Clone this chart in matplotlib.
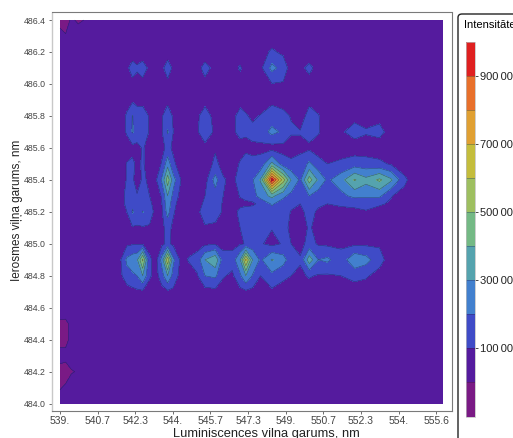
import matplotlib
matplotlib.use('Agg')
import matplotlib.pyplot as plt
import numpy as np
from matplotlib.patches import FancyBboxPatch

plt.rcParams['font.family'] = ['Liberation Sans', 'DejaVu Sans']

W, H = 513, 438

# wavelengths, nm
x_nodes = [539.0, 539.25, 539.5, 539.8, 541.3,
           541.6, 541.95, 542.2, 542.4, 542.65, 542.95, 543.25, 543.5, 543.75, 544.0,
           544.35, 544.7, 545.05, 545.4, 545.85, 546.2, 546.6, 546.95, 547.2, 547.5, 547.85,
           548.35, 548.85, 549.2, 549.6, 550.0, 550.4, 550.8, 551.4, 552.0, 552.5, 553.1, 553.6, 554.2, 554.6, 555.9]
y_nodes = [484.0, 484.1, 484.2, 484.3, 484.4, 484.5, 484.6, 484.7, 484.8, 484.9, 485.0, 485.1, 485.2,
           485.25, 485.3, 485.4, 485.5, 485.6, 485.7, 485.8, 485.9, 486.0, 486.1, 486.2, 486.3, 486.4]

# intensity, in units of 10000, one list per excitation wavelength
r4840 = [3, 4, 5, 5, 5,  5, 5, 5, 5, 5, 5, 5, 5, 5, 5,  5, 5, 5, 5, 5, 5, 5, 5, 5, 5, 5,  5, 5, 5, 5, 5, 5, 5, 5, 5, 5, 5, 5, 5, 5, 5]
r4841 = [-0.5, 1, 3, 5, 5,  5, 5, 5, 5, 5, 5, 5, 5, 5, 5,  5, 5, 5, 5, 5, 5, 5, 5, 5, 5, 5,  5, 5, 5, 5, 5, 5, 5, 5, 5, 5, 5, 5, 5, 5, 5]
r4842 = [-1, -3, -0.5, 0.5, 5,  5, 5, 5, 5, 5, 5, 5, 5, 5, 5,  5, 5, 5, 5, 5, 5, 5, 5, 5, 5, 5,  5, 5, 5, 5, 5, 5, 5, 5, 5, 5, 5, 5, 5, 5, 5]
r4843 = [1, 2, 3, 5, 5,  5, 5, 5, 5, 5, 5, 5, 5, 5, 5,  5, 5, 5, 5, 5, 5, 5, 5, 5, 5, 5,  5, 5, 5, 5, 5, 5, 5, 5, 5, 5, 5, 5, 5, 5, 5]
r4844 = [-1, -2, 2, 5, 5,  5, 5, 5, 5, 5, 5, 5, 5, 5, 5,  5, 5, 5, 5, 5, 5, 5, 5, 5, 5, 5,  5, 5, 5, 5, 5, 5, 5, 5, 5, 5, 5, 5, 5, 5, 5]
r4845 = [-1, -2, 2, 5, 5,  5, 5, 5, 5, 5, 5, 5, 5, 5, 5,  5, 5, 5, 5, 5, 5, 5, 5, 5, 5, 5,  5, 5, 5, 5, 5, 5, 5, 5, 5, 5, 5, 5, 5, 5, 5]
r4846 = [3, 5, 5, 5, 5,  5, 5, 5, 5, 5, 5, 5, 5, 5, 5,  5, 5, 5, 5, 5, 5, 5, 5, 5, 5, 5,  5, 5, 5, 5, 5, 5, 5, 5, 5, 5, 5, 5, 5, 5, 5]
r4847 = [5, 5, 5, 5, 5,  5, 5, 7, 8, 8, 7, 5, 6, 8, 8,  5, 5, 5, 6, 7, 5, 5, 7, 8, 7, 6,  8, 6, 5, 5, 5, 5, 5, 5, 5, 6, 5, 5, 5, 5, 5]
r4848 = [5, 5, 5, 5, 5,  6, 16, 18, 20, 30, 11, 7, 16, 30, 16,  6, 5, 9, 20, 22, 11, 8, 18, 30, 19, 10,  17, 12, 10, 8, 11, 9, 8.5, 10, 13, 11, 7, 5, 5, 5, 5]
r4849 = [5, 5, 5, 5, 5,  6, 22, 26, 28, 52, 11, 8, 24, 58, 22,  7, 11, 14, 30, 38, 14, 14, 30, 62, 30, 18,  31, 24, 14, 11, 36, 20, 22, 14, 28, 24, 13, 6, 5, 5, 5]
r4850 = [5, 5, 5, 5, 5,  5, 8, 9, 9, 9, 8, 6, 8, 12, 8,  5, 5, 6, 8, 9, 7, 7, 9, 10.5, 14, 11,  7, 11, 10, 7, 13, 9, 8, 8, 8, 8, 9, 6, 5, 5, 5]
r4851 = [5, 5, 5, 5, 5,  5, 9, 9, 9, 9, 9, 6, 8, 13, 8,  5, 5, 6, 9, 8, 5, 5, 10, 15, 16, 13,  10.5, 13, 8, 6, 11, 7, 5, 5, 5, 5, 5, 5, 5, 5, 5]
r4852 = [5, 5, 5, 5, 5,  6, 10, 21, 15, 20.5, 14, 7, 9, 24, 11,  5, 5, 8, 14, 14, 9, 7, 12, 14, 16, 17,  17, 14, 9.5, 8.5, 12, 9, 8, 8, 9, 9.5, 7, 5, 5, 5, 5]
r48525 = [5, 5, 5, 5, 5,  5, 12, 18, 12, 16, 12, 6, 10, 27, 13,  5, 5, 6, 12, 15, 9, 5, 8, 8, 8, 13,  21, 16, 12, 10, 15, 11, 10, 11, 11, 12, 11, 9, 5, 5, 5]
r4853 = [5, 5, 5, 5, 5,  6, 12, 15, 10.5, 14, 10, 5, 11, 30, 17,  6, 5, 5, 10, 16, 10, 6, 10.5, 13, 16, 24,  33, 22, 17, 14, 20, 15, 12, 17, 23, 22, 22, 10.5, 7, 5, 5]
r4854 = [5, 5, 5, 5, 5,  5, 10.5, 11, 7, 11, 9, 9.5, 22, 46, 24,  9.5, 5, 5, 6, 24, 11, 7.5, 14, 15, 19, 31,  95, 55, 30, 18, 45, 28, 18, 26, 41, 33, 42, 32, 12, 6, 5]
r4855 = [5, 5, 5, 5, 5,  5, 10.5, 12, 8, 11, 6, 5, 11, 26, 12,  5, 5, 5, 5, 12, 7, 5, 11, 14, 12, 13,  33, 14, 12, 13, 22, 14, 10, 12, 15, 14, 12, 9, 5, 5, 5]
r4856 = [5, 5, 5, 5, 5,  5, 6, 7, 8, 10.5, 8, 5, 7, 13, 8,  5, 5, 5, 5, 9, 5, 5, 6, 8, 8, 8,  6, 7, 6, 8, 8, 5, 5, 5, 5, 5, 5, 5, 5, 5, 5]
r4857 = [5, 5, 5, 5, 5,  5, 11, 21, 14, 17, 9, 5, 9.5, 21, 10,  5, 5, 8, 20, 7, 5, 8, 13, 11, 13, 14,  23, 18, 11, 10.5, 14, 11, 5, 8.5, 14, 11, 13, 6, 5, 5, 5]
r4858 = [5, 5, 5, 5, 5,  5, 11, 20.5, 13, 13, 9.5, 5, 9.5, 14, 9,  5, 5, 8.5, 14, 7, 5, 7.5, 13, 11, 8, 10.5,  14, 12, 9.5, 6, 13, 10.5, 5, 5, 7, 6, 7, 5, 5, 5, 5]
r4859 = [5, 5, 5, 5, 5,  5, 7, 8, 8, 8, 5, 5, 6, 8, 6,  5, 5, 5, 7, 5, 5, 5, 7, 6, 5, 5,  8, 7, 5, 5, 8, 6, 5, 5, 5, 5, 5, 5, 5, 5, 5]
r4860 = [5, 5, 5, 5, 5,  5, 6, 8, 7, 8, 6, 5, 6, 8, 6,  5, 5, 6, 7.5, 6, 5, 5, 6, 5, 5, 6,  9.5, 9, 6, 5, 7, 5, 5, 5, 5, 5, 5, 5, 5, 5, 5]
r4861 = [5, 5, 5, 5, 5,  5, 8.5, 13, 11, 13, 8.5, 5, 8, 14, 8.5,  5, 5, 7, 13, 7, 5, 7, 11, 7, 5, 7.5,  23, 16, 5, 8, 12, 7, 5, 5, 5, 5, 5, 5, 5, 5, 5]
r4862 = [5, 5, 5, 5, 5,  5, 5, 6, 6, 6, 5, 5, 5, 6, 5,  5, 5, 5, 5, 5, 5, 5, 5, 5, 5, 6,  11.5, 8, 5, 5, 5, 5, 5, 5, 5, 5, 5, 5, 5, 5, 5]
r4863 = [1, 0.5, 3, 3, 5,  5, 5, 5, 5, 5, 5, 5, 5, 5, 5,  5, 5, 5, 5, 5, 5, 5, 5, 5, 5, 5,  5, 5, 5, 5, 5, 5, 5, 5, 5, 5, 5, 5, 5, 5, 5]
r4864 = [-1, -3, 1, -1, 5,  5, 5, 5, 5, 5, 5, 5, 5, 5, 5,  5, 5, 5, 5, 5, 5, 5, 5, 5, 5, 5,  5, 5, 5, 5, 5, 5, 5, 5, 5, 5, 5, 5, 5, 5, 5]

z = np.array([r4840, r4841, r4842, r4843, r4844, r4845, r4846, r4847, r4848, r4849, r4850, r4851, r4852,
              r48525, r4853, r4854, r4855, r4856, r4857, r4858, r4859, r4860, r4861, r4862, r4863, r4864]) * 10000

levels = [-100000, 0, 100000, 200000, 300000, 400000, 500000, 600000, 700000, 800000, 900000, 1000000]
band_colors = ['#7A1A85', '#551B9E', '#3F4BC7', '#4280CE', '#55A3AE', '#74B985',
               '#9EBF60', '#C4BD3C', '#E0A032', '#E8702B', '#DF2020']
x_ticks = [539.0, 540.66, 542.32, 543.98, 545.64, 547.3, 548.96, 550.62, 552.28, 553.94, 555.6]
x_labels = ['539.', '540.7', '542.3', '544.', '545.7', '547.3', '549.', '550.7', '552.3', '554.', '555.6']
y_ticks = [484.0, 484.2, 484.4, 484.6, 484.8, 485.0, 485.2, 485.4, 485.6, 485.8, 486.0, 486.2, 486.4]
bar_ticks = [100000, 300000, 500000, 700000, 900000]
bar_labels = ['100\u2009000', '300\u2009000', '500\u2009000', '700\u2009000', '900\u2009000']

fig = plt.figure(figsize=(W / 100, H / 100), dpi=100)
ax = fig.add_axes([52 / W, 1 - 411 / H, 399.5 / W, 398.5 / H])

cs = ax.contourf(x_nodes, y_nodes, z, levels=levels, colors=band_colors)
lines = ax.contour(x_nodes, y_nodes, z, levels=levels[1:-1], colors='#1c1c3c', linewidths=0.4, alpha=0.55)
ax.set_xlim(538.647, 556.277)
ax.set_ylim(483.954, 486.447)
ax.set_xticks(x_ticks)
ax.set_xticklabels(x_labels)
ax.set_yticks(y_ticks)
ax.set_yticklabels(['%.1f' % t for t in y_ticks])
ax.tick_params(axis='x', labelsize=7.5, length=2.5, width=0.6, color='#555555', labelcolor='#444444', pad=1)
ax.tick_params(axis='y', labelsize=6.3, length=2.5, width=0.6, color='#555555', labelcolor='#444444', pad=2)
for s in ['top', 'right', 'bottom']:
    ax.spines[s].set_color('#7a7a7a')
    ax.spines[s].set_linewidth(0.8)
ax.spines['left'].set_color('#c8c8c8')
ax.spines['left'].set_linewidth(1.0)
fig.text(266 / W, 1 - 434 / H, 'Luminiscences viļņa garums, nm', fontsize=9.3, color='#222222', ha='center', va='center')
fig.text(17 / W, 1 - 210 / H, 'Ierosmes viļņa garums, nm', fontsize=8.5, color='#222222', rotation=90, ha='center', va='center')

# legend box runs off the picture on the right and at the bottom
box = FancyBboxPatch((458 / W, -0.1), 0.3, 1 - 14 / H + 0.1, boxstyle='round,pad=0,rounding_size=0.008',
                     transform=fig.transFigure, fc='white', ec='#222222', lw=1.0, zorder=-1)
fig.add_artist(box)
fig.text(464 / W, 1 - 25 / H, 'Intensitāte', fontsize=8, color='black', ha='left', va='center')

cax = fig.add_axes([466 / W, 1 - 416.5 / H, 8.5 / W, 374.5 / H])
cb = fig.colorbar(cs, cax=cax, ticks=bar_ticks)
cb.add_lines(lines)
cb.ax.set_yticklabels(bar_labels)
cb.ax.tick_params(labelsize=8, length=2, width=0.5, pad=2, labelcolor='#222222')
cb.outline.set_edgecolor('#bbbbbb')
cb.outline.set_linewidth(0.5)

fig.savefig('out.png', dpi=100)
